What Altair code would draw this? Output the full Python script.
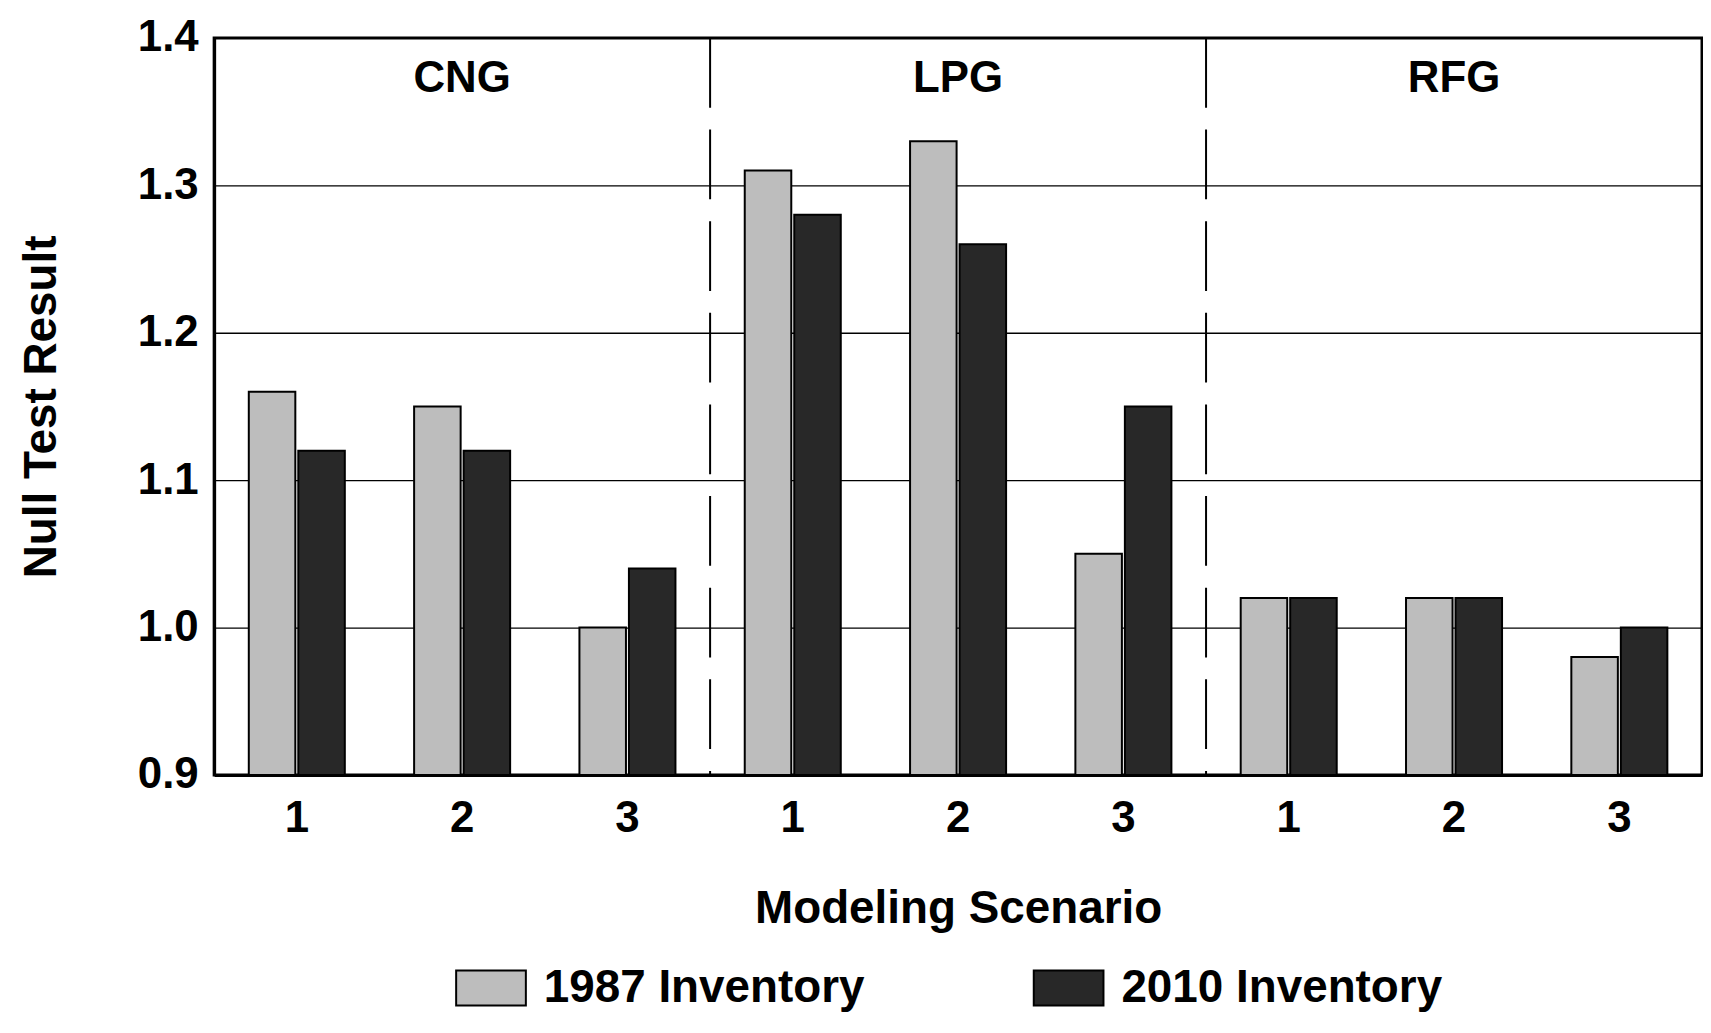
import altair as alt
import pandas as pd

fuels = ["CNG", "LPG", "RFG"]
scenarios = ["1", "2", "3"]
series = ["1987 Inventory", "2010 Inventory"]
inv1987 = [1.16, 1.15, 1.00, 1.31, 1.33, 1.05, 1.02, 1.02, 0.98]
inv2010 = [1.12, 1.12, 1.04, 1.28, 1.26, 1.15, 1.02, 1.02, 1.00]

cats = [f"{f}|{s}" for f in fuels for s in scenarios]
rows = []
for i, c in enumerate(cats):
    rows.append({"cat": c, "series": series[0], "value": inv1987[i]})
    rows.append({"cat": c, "series": series[1], "value": inv2010[i]})
df = pd.DataFrame(rows)

FONT = "Liberation Sans"
W, H = 1494, 740

xscale = alt.Scale(domain=cats, paddingInner=0, paddingOuter=0)
yscale = alt.Scale(domain=[0.9, 1.4], zero=False, nice=False)

bars = alt.Chart(df).mark_bar(stroke="black", strokeWidth=2).encode(
    x=alt.X("cat:N", scale=xscale, sort=cats,
            axis=alt.Axis(title="Modeling Scenario", labelExpr="split(datum.label, '|')[1]",
                          labelAngle=0, ticks=False, labelPadding=22, titlePadding=46,
                          domainColor="black", domainWidth=3)),
    xOffset=alt.XOffset("series:N", sort=series,
                        scale=alt.Scale(paddingInner=0.06, paddingOuter=0.7)),
    y=alt.Y("value:Q", scale=yscale,
            axis=alt.Axis(title="Null Test Result", values=[0.9, 1.0, 1.1, 1.2, 1.3, 1.4],
                          format=".1f", ticks=False, labelPadding=16, titlePadding=72,
                          grid=True, gridColor="black", gridWidth=1.3,
                          domainColor="black", domainWidth=3)),
    y2=alt.datum(0.9),
    color=alt.Color("series:N", sort=series,
                    scale=alt.Scale(domain=series, range=["#bdbdbd", "#282828"]),
                    legend=alt.Legend(title=None, orient="none", direction="horizontal",
                                      legendX=242, legendY=918,
                                      symbolType="M-1,-0.5H1V0.5H-1Z", symbolSize=4900,
                                      symbolStrokeColor="black", symbolStrokeWidth=2,
                                      symbolOpacity=1, labelOffset=17, columnPadding=165,
                                      labelFontSize=46, labelFont=FONT, labelFontWeight="bold",
                                      labelColor="black", labelLimit=600)),
)

sep_df = pd.DataFrame({"cat": ["LPG|1", "RFG|1"]})
seps = alt.Chart(sep_df).mark_rule(color="black", strokeWidth=2, strokeDash=[70, 22]).encode(
    x=alt.X("cat:N", scale=xscale, sort=cats, bandPosition=0),
    y=alt.value(0),
    y2=alt.value(H),
)

lab_df = pd.DataFrame({"cat": [f"{f}|2" for f in fuels], "fuel": fuels})
labels = alt.Chart(lab_df).mark_text(font=FONT, fontWeight="bold", fontSize=44,
                                     color="black", baseline="middle").encode(
    x=alt.X("cat:N", scale=xscale, sort=cats),
    y=alt.datum(1.372),
    text="fuel:N",
)

chart = alt.layer(bars, seps, labels).properties(
    width=W, height=H,
    autosize=alt.AutoSizeParams(type="none"),
    padding={"left": 207, "top": 28, "right": 1, "bottom": 245},
).configure_view(stroke="black", strokeWidth=3).configure_axis(
    labelFont=FONT, labelFontSize=44, labelFontWeight="bold", labelColor="black",
    titleFont=FONT, titleFontSize=46, titleFontWeight="bold", titleColor="black",
)

chart.save("out.html", embed_options={"renderer": "svg", "actions": False})
